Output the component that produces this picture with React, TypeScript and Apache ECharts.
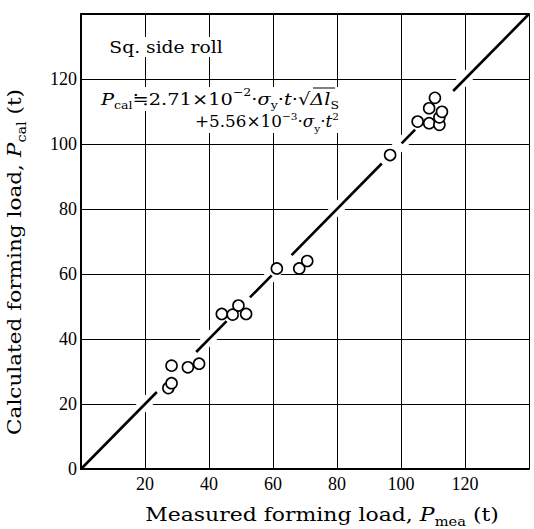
import React, { useEffect, useRef } from "react";
import * as echarts from "echarts";

const axisMin = 0;
const axisMax = 140;
const axisStep = 20;

// measured (x) vs calculated (y) forming load, t
const measuredLoad = [27.3, 28.3, 28.3, 33.4, 36.9, 44.0, 47.4, 49.2, 51.6, 61.2, 68.2, 70.7, 96.6, 105.2, 108.8, 108.8, 110.6, 112.0, 112.0, 112.8];
const calculatedLoad = [24.9, 26.4, 31.8, 31.3, 32.4, 47.7, 47.5, 50.3, 47.7, 61.7, 61.7, 64.0, 96.6, 106.9, 106.4, 111.0, 114.2, 105.9, 108.2, 109.9];

// visible pieces of the y = x reference line (start, end), broken around the circles
const diagonalPieces: [number, number][] = [
  [0, 23.7],
  [36, 45.5],
  [52.8, 59.6],
  [65.8, 94],
  [100.2, 104.4],
  [116.3, 140],
];

const SERIF = "'Liberation Serif', 'DejaVu Serif', serif";
const WIDE = "'DejaVu Serif', 'Liberation Serif', serif";

export default function App() {
  const ref = useRef<HTMLDivElement>(null);

  useEffect(() => {
    if (!ref.current) return;
    const chart = echarts.init(ref.current, undefined, { renderer: "svg" });

    const mk = (size: number) => {
      const main = { fontFamily: WIDE, fontSize: size, color: "#000", lineHeight: Math.round(size * 1.4) };
      return {
        a: main,
        i: { ...main, fontStyle: "italic" },
        s: { fontFamily: WIDE, fontSize: Math.round(size * 0.64), color: "#000", lineHeight: Math.round(size * 0.64), verticalAlign: "bottom" },
        p: { fontFamily: WIDE, fontSize: Math.round(size * 0.64), color: "#000", lineHeight: Math.round(size * 0.76), verticalAlign: "top" },
      };
    };
    const rich16 = mk(16);
    const rich17 = mk(17);
    const rich18 = mk(18);

    const pieceSeries = diagonalPieces.map((p) => ({
      type: "line",
      data: [
        [p[0], p[0]],
        [p[1], p[1]],
      ],
      symbol: "none",
      lineStyle: { color: "#000", width: 2.6 },
      z: 4,
      silent: true,
    }));

    const option: any = {
      animation: false,
      backgroundColor: "#fff",
      grid: { left: 81, top: 14, right: 5, bottom: 60, containLabel: false },
      xAxis: [
        {
          type: "value",
          min: axisMin,
          max: axisMax,
          interval: axisStep,
          axisLine: { show: true, lineStyle: { color: "#000", width: 2 } },
          axisTick: { show: false },
          axisLabel: {
            fontFamily: SERIF,
            fontSize: 18,
            color: "#000",
            margin: 6,
            formatter: (v: number) => (v === axisMin || v === axisMax ? "" : String(v)),
          },
          splitLine: { show: true, lineStyle: { color: "#000", width: 1 } },
        },
        {
          type: "value",
          position: "top",
          min: axisMin,
          max: axisMax,
          interval: axisStep,
          axisLine: { show: true, lineStyle: { color: "#000", width: 2 } },
          axisTick: { show: false },
          axisLabel: { show: false },
          splitLine: { show: false },
        },
      ],
      yAxis: {
        type: "value",
        min: axisMin,
        max: axisMax,
        interval: axisStep,
        axisLine: { show: true, lineStyle: { color: "#000", width: 2 } },
        axisTick: { show: false },
        axisLabel: {
          fontFamily: SERIF,
          fontSize: 18,
          color: "#000",
          margin: 4,
          formatter: (v: number) => (v === axisMax ? "" : String(v)),
        },
        splitLine: { show: true, lineStyle: { color: "#000", width: 1 } },
      },
      series: [
        {
          type: "line",
          data: [
            [2, 2],
            [137, 137],
          ],
          symbol: "none",
          lineStyle: { color: "#fff", width: 12 },
          z: 3,
          silent: true,
        },
        ...pieceSeries,
        {
          type: "scatter",
          data: measuredLoad.map((m, i) => [m, calculatedLoad[i]]),
          symbol: "circle",
          symbolSize: 11,
          itemStyle: { color: "#fff", borderColor: "#000", borderWidth: 1.6, opacity: 1 },
          z: 5,
          silent: true,
        },
      ],
      graphic: [
        {
          type: "text",
          x: 107,
          y: 47,
          scaleX: 1.17,
          z: 10,
          style: {
            text: "Sq. side roll",
            font: `16px ${WIDE}`,
            fill: "#000",
            backgroundColor: "#fff",
            padding: [2, 2],
            textAlign: "left",
            align: "left",
            textVerticalAlign: "middle",
            verticalAlign: "middle",
          },
        },
        {
          type: "text",
          x: 101,
          y: 99,
          scaleX: 1.14,
          z: 10,
          style: {
            text: "{i|P}{s|cal}{a|≒2.71×10}{p|−2}{a|·}{i|σ}{s|y}{a|·}{i|t}{a|·√}{i|Δl}{s|S}",
            rich: rich17,
            fill: "#000",
            backgroundColor: "#fff",
            textAlign: "left",
            align: "left",
            textVerticalAlign: "middle",
            verticalAlign: "middle",
          },
        },
        {
          type: "line",
          z: 11,
          shape: { x1: 313, y1: 88, x2: 335, y2: 88 },
          style: { stroke: "#000", lineWidth: 1 },
        },
        {
          type: "text",
          x: 195,
          y: 122,
          scaleX: 1.05,
          z: 10,
          style: {
            text: "{a|+5.56×10}{p|−3}{a|·}{i|σ}{s|y}{a|·}{i|t}{p|2}",
            rich: rich16,
            fill: "#000",
            backgroundColor: "#fff",
            textAlign: "left",
            align: "left",
            textVerticalAlign: "middle",
            verticalAlign: "middle",
          },
        },
        {
          type: "text",
          x: 322,
          y: 515,
          scaleX: 1.22,
          z: 10,
          style: {
            text: "{a|Measured forming load, }{i|P}{s|mea}{a| (t)}",
            rich: rich18,
            fill: "#000",
            textAlign: "center",
            align: "center",
            textVerticalAlign: "middle",
            verticalAlign: "middle",
          },
        },
        {
          type: "text",
          x: 15,
          y: 262,
          rotation: Math.PI / 2,
          scaleX: 1.2,
          z: 10,
          style: {
            text: "{a|Calculated forming load, }{i|P}{s|cal}{a| (t)}",
            rich: rich18,
            fill: "#000",
            textAlign: "center",
            align: "center",
            textVerticalAlign: "middle",
            verticalAlign: "middle",
          },
        },
      ],
    };

    chart.setOption(option);
    return () => chart.dispose();
  }, []);

  return (
    <div
      ref={ref}
      style={{ position: "absolute", left: 0, top: 0, width: 534, height: 529, background: "#fff" }}
    />
  );
}
